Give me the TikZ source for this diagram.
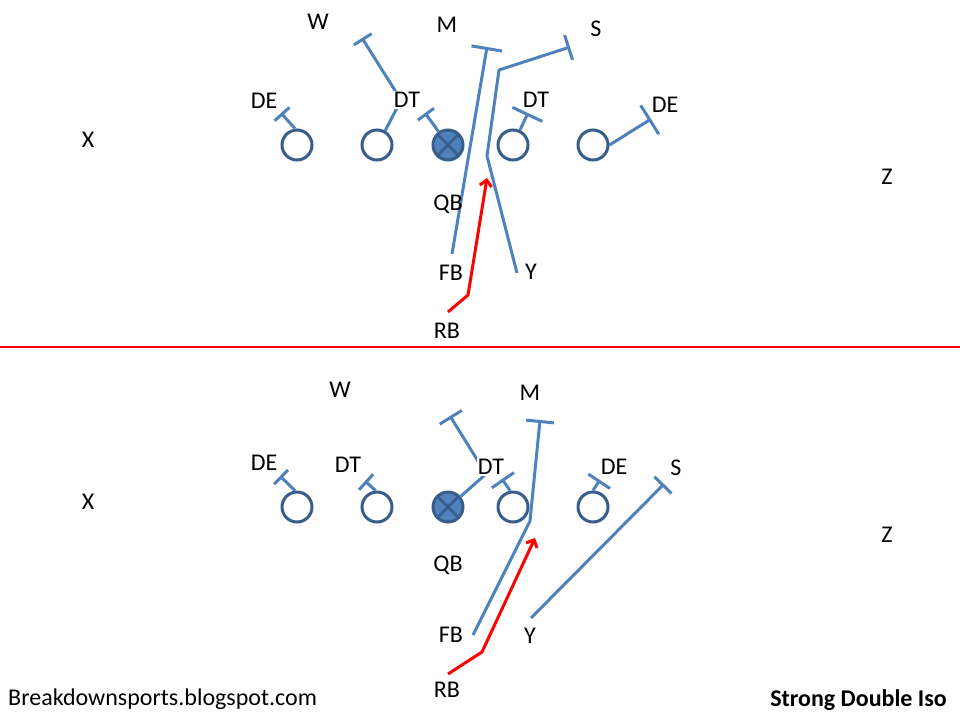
\documentclass[tikz,border=0pt]{standalone}
\usepackage{fontspec}
\setmainfont{Carlito}
\usetikzlibrary{arrows.meta}
\definecolor{lineblue}{HTML}{4F81BD}
\definecolor{darkblue}{HTML}{385D8A}
\definecolor{routered}{HTML}{FF0000}
\tikzset{
  x=1pt, y=-1pt,
  lbl/.style={font=\fontsize{24}{24}\selectfont, inner sep=1pt},
  lblw/.style={lbl, fill=white},
  player/.style={circle, draw=darkblue, line width=3pt, minimum size=30pt, inner sep=0pt, fill=white},
  qb/.style={player, fill=lineblue, path picture={
      \draw[darkblue, line width=2.5pt] (path picture bounding box.north west) -- (path picture bounding box.south east)
        (path picture bounding box.north east) -- (path picture bounding box.south west);}},
  blk/.style={draw=lineblue, line width=3pt},
  tb/.style={blk, -{Bar[width=#1]}},
  run/.style={draw=routered, line width=3pt, -{Straight Barb[length=6pt,width=12pt,line width=3pt]}},
}
\begin{document}
\begin{tikzpicture}
\useasboundingbox (0,0) rectangle (960,720);

% ---------------- TOP ----------------
\node[player] (t1) at (297,145) {};
\node[player] (t2) at (377,145) {};
\node[qb]     (t3) at (448,145) {};
\node[player] (t4) at (513,145) {};
\node[player] (t5) at (593,145) {};

\coordinate (tDEa) at (281,113);
\coordinate (tWc) at (401,100);
\coordinate (tW) at (362,38);
\coordinate (tCe) at (425,113);
\coordinate (tDTb) at (528,113);
\coordinate (tDEb) at (651,119);
\coordinate (tFBs) at (452,254);
\coordinate (tM) at (487,47);
\coordinate (tYs) at (517,273);
\coordinate (tYa) at (487,156);
\coordinate (tYb) at (499,70);
\coordinate (tS) at (570,47);
\coordinate (tRBs) at (448,312);
\coordinate (tRBc) at (468,295);
\coordinate (tRBe) at (487,178);

\draw[tb=20pt] (t1.97) -- (tDEa);
\draw[tb=21pt] (t2.60) -- (tWc) -- (tW);
\draw[tb=20pt] (t3.125) -- (tCe);
\draw[tb=33pt] (t4.65) -- (tDTb);
\draw[tb=34pt] (t5.0) -- (tDEb);
\draw[tb=31pt] (tFBs) -- (tM);
\draw[tb=26pt] (tYs) -- (tYa) -- (tYb) -- (tS);
\draw[run] (tRBs) -- (tRBc) -- (tRBe);

\node[lbl]  (tWl)   at (318,22)  {W};
\node[lbl]  (tMl)   at (447,25)  {M};
\node[lbl]  (tSl)   at (596,29)  {S};
\node[lbl]  (tDEal) at (264,101) {DE};
\node[lblw] (tDTal) at (407,100) {DT};
\node[lbl]  (tDTbl) at (536,100) {DT};
\node[lbl]  (tDEbl) at (665,105) {DE};
\node[lbl]  (tX)    at (88,140)  {X};
\node[lbl]  (tZ)    at (887,177) {Z};
\node[lbl]  (tQB)   at (448,204) {QB};
\node[lbl]  (tFB)   at (451,273) {FB};
\node[lbl]  (tY)    at (531,272) {Y};
\node[lbl]  (tRB)   at (447,331) {RB};

% divider
\coordinate (divL) at (0,347);
\coordinate (divR) at (960,347);
\draw[routered, line width=2.5pt] (divL) -- (divR);

% ---------------- BOTTOM ----------------
\node[player] (b1) at (297,507) {};
\node[player] (b2) at (377,507) {};
\node[qb]     (b3) at (448,507) {};
\node[player] (b4) at (513,507) {};
\node[player] (b5) at (593,507) {};

\coordinate (bDEa) at (280,476);
\coordinate (bDTa) at (365,481);
\coordinate (bCc) at (486,474);
\coordinate (bCe) at (450,416);
\coordinate (bDTb) at (502,479);
\coordinate (bDEb) at (600,480);
\coordinate (bFBs) at (473,635);
\coordinate (bFBc) at (530,521);
\coordinate (bM) at (540,420);
\coordinate (bYs) at (531,618);
\coordinate (bS) at (664,484);
\coordinate (bRBs) at (448,674);
\coordinate (bRBc) at (482,652);
\coordinate (bRBe) at (535,538);

\draw[tb=20pt] (b1.97) -- (bDEa);
\draw[tb=21pt] (b2.95) -- (bDTa);
\draw[tb=26pt] (b3.40) -- (bCc) -- (bCe);
\draw[tb=27pt] (b4.100) -- (bDTb);
\draw[tb=26pt] (b5.90) -- (bDEb);
\draw[tb=28pt] (bFBs) -- (bFBc) -- (bM);
\draw[tb=24pt] (bYs) -- (bS);
\draw[run] (bRBs) -- (bRBc) -- (bRBe);

\node[lbl]  (bWl)   at (340,390) {W};
\node[lbl]  (bMl)   at (530,393) {M};
\node[lbl]  (bDEal) at (264,463) {DE};
\node[lbl]  (bDTal) at (348,465) {DT};
\node[lblw] (bDTbl) at (491,467) {DT};
\node[lbl]  (bDEbl) at (614,467) {DE};
\node[lbl]  (bSl)   at (676,468) {S};
\node[lbl]  (bX)    at (88,502)  {X};
\node[lbl]  (bZ)    at (887,535) {Z};
\node[lbl]  (bQB)   at (448,565) {QB};
\node[lbl]  (bFB)   at (451,635) {FB};
\node[lbl]  (bY)    at (530,636) {Y};
\node[lbl]  (bRB)   at (447,690) {RB};

\node[lbl, anchor=west] (credit) at (7,699) {Breakdownsports.blogspot.com};
\node[lbl, anchor=east, font=\fontsize{24}{24}\selectfont\bfseries] (title) at (948,700) {Strong Double Iso};
\end{tikzpicture}
\end{document}
